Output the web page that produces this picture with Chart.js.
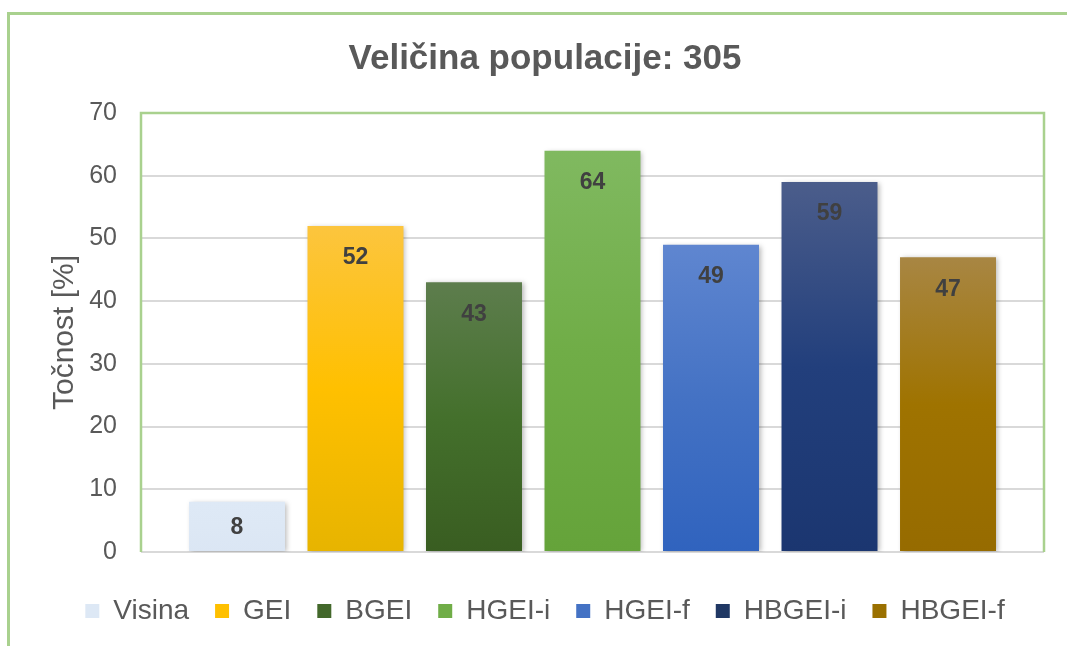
<!DOCTYPE html>
<html>
<head>
<meta charset="utf-8">
<script src="https://cdn.jsdelivr.net/npm/chart.js@4.4.1/dist/chart.umd.min.js"></script>
<style>
  html, body { margin: 0; padding: 0; background: #fff; overflow: hidden; }
  #frame {
    position: absolute; left: 7px; top: 12px; width: 1100px; height: 700px;
    border-left: 3px solid #a9d18e; border-top: 3px solid #a9d18e;
  }
  #chart { position: absolute; left: 0; top: 0; }
</style>
</head>
<body>
<div id="frame"><canvas id="chart" width="1070" height="631"></canvas></div>
<script>
// methods and their accuracy for population size 305
const methods = ['Visina', 'GEI', 'BGEI', 'HGEI-i', 'HGEI-f', 'HBGEI-i', 'HBGEI-f'];
const accuracy = [8, 52, 43, 64, 49, 59, 47];
const yTicks = [0, 10, 20, 30, 40, 50, 60, 70];

// bar gradient stops, top -> bottom
const barTop    = ['#dee9f6', '#fcc53e', '#5d7d4d', '#80b960', '#5f86d0', '#4b5d8b', '#a88643'];
const barMid    = ['#dde8f5', '#ffc000', '#44702c', '#70ad47', '#4472c4', '#223f7c', '#9f7300'];
const barBottom = ['#dbe6f4', '#e7b400', '#395d21', '#65a33a', '#3063be', '#1b3670', '#966b00'];
const legendColors = ['#dde8f5', '#ffc000', '#43682b', '#70ad47', '#4472c4', '#203864', '#9a7000'];

const textGray = '#595959';
const fontFamily = '"Liberation Sans", Arial, sans-serif';

function barFill(context) {
    const chart = context.chart;
    const i = context.dataIndex;
    if (!chart.chartArea || !context.parsed) return barMid[i];
    const y = chart.scales.y;
    const top = y.getPixelForValue(context.parsed.y);
    const base = y.getPixelForValue(0);
    const g = chart.ctx.createLinearGradient(0, top, 0, base);
    g.addColorStop(0, barTop[i]);
    g.addColorStop(0.5, barMid[i]);
    g.addColorStop(1, barBottom[i]);
    return g;
}

// soft shadow under the bars, value labels inside the bar tops
const barDecor = {
    id: 'barDecor',
    beforeDatasetsDraw(chart) {
        const ctx = chart.ctx;
        ctx.save();
        ctx.shadowColor = 'rgba(0, 0, 0, 0.28)';
        ctx.shadowBlur = 5;
        ctx.shadowOffsetX = 2;
        ctx.shadowOffsetY = 1;
    },
    afterDatasetsDraw(chart) {
        const ctx = chart.ctx;
        ctx.restore();
        const meta = chart.getDatasetMeta(0);
        ctx.save();
        ctx.fillStyle = '#404040';
        ctx.font = 'bold 23px ' + fontFamily;
        ctx.textAlign = 'center';
        ctx.textBaseline = 'middle';
        meta.data.forEach((bar, i) => {
            const h = bar.base - bar.y;
            const off = Math.min(32, h / 2 + 1);
            ctx.fillText(String(accuracy[i]), bar.x, bar.y + off);
        });
        ctx.restore();
    }
};

// green frame round the plot area (bottom edge is the grey zero line)
const plotFrame = {
    id: 'plotFrame',
    afterDraw(chart) {
        const {ctx, chartArea: a} = chart;
        ctx.save();
        ctx.strokeStyle = '#a9d18e';
        ctx.lineWidth = 2.5;
        ctx.beginPath();
        ctx.moveTo(a.left, a.bottom);
        ctx.lineTo(a.left, a.top);
        ctx.lineTo(a.right, a.top);
        ctx.lineTo(a.right, a.bottom);
        ctx.stroke();
        ctx.restore();
    }
};

new Chart(document.getElementById('chart'), {
    type: 'bar',
    data: {
        labels: methods,
        datasets: [{
            label: 'Točnost',
            data: accuracy.map((v, i) => ({x: i, y: v})),
            backgroundColor: barFill,
            borderWidth: 0,
            categoryPercentage: 1,
            barPercentage: 0.81
        }]
    },
    options: {
        responsive: false,
        animation: false,
        layout: {padding: {left: 36, right: 36, top: 0, bottom: 11}},
        plugins: {
            tooltip: {enabled: false},
            title: {
                display: true,
                text: 'Veličina populacije: 305',
                color: textGray,
                font: {family: fontFamily, size: 35, weight: 'bold'},
                padding: {top: 23, bottom: 33}
            },
            legend: {
                position: 'bottom',
                labels: {
                    color: textGray,
                    font: {family: fontFamily, size: 28},
                    boxWidth: 14,
                    boxHeight: 14,
                    padding: 26,
                    generateLabels: () => methods.map((m, i) => ({
                        text: m,
                        fillStyle: legendColors[i],
                        strokeStyle: legendColors[i],
                        lineWidth: 0,
                        fontColor: textGray,
                        hidden: false,
                        index: i
                    }))
                }
            }
        },
        scales: {
            x: {
                type: 'linear',
                min: -0.81,
                max: 6.81,
                offset: false,
                // one (hidden) tick per method, so bar width follows the method spacing
                afterBuildTicks: (scale) => { scale.ticks = methods.map((m, i) => ({value: i})); },
                grid: {display: false},
                border: {display: false},
                ticks: {display: false},
                afterFit: (scale) => { scale.height = 19; }
            },
            y: {
                min: 0,
                max: 70,
                afterBuildTicks: (scale) => { scale.ticks = yTicks.map(v => ({value: v})); },
                grid: {color: '#d9d9d9', lineWidth: 2, drawTicks: false},
                border: {display: false},
                ticks: {
                    color: textGray,
                    padding: 24,
                    font: {family: fontFamily, size: 25}
                },
                title: {
                    display: true,
                    text: 'Točnost [%]',
                    color: textGray,
                    font: {family: fontFamily, size: 30},
                    padding: {top: 1, bottom: 0}
                },
                afterFit: (scale) => { scale.width = 95; }
            }
        }
    },
    plugins: [barDecor, plotFrame]
});
</script>
</body>
</html>
